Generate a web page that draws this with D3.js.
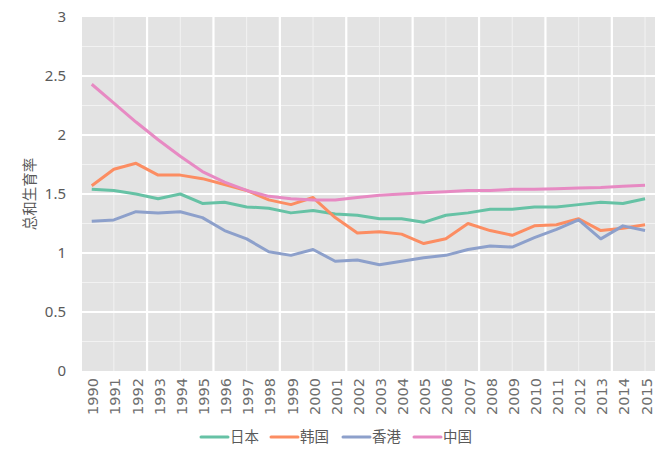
<!DOCTYPE html>
<html>
<head>
<meta charset="utf-8">
<script src="https://cdn.jsdelivr.net/npm/d3@7"></script>
<style>
html, body { margin: 0; padding: 0; background: #fff; }
svg { display: block; }
text { font-family: "Noto Sans CJK SC", "Noto Sans", sans-serif; }
</style>
</head>
<body>
<svg id="chart" width="670" height="460"></svg>
<script>
const years = [1990,1991,1992,1993,1994,1995,1996,1997,1998,1999,2000,2001,2002,2003,2004,2005,2006,2007,2008,2009,2010,2011,2012,2013,2014,2015];
const seriesNames = ["日本", "韩国", "香港", "中国"];
const japan =    [1.54,1.53,1.50,1.46,1.50,1.42,1.43,1.39,1.38,1.34,1.36,1.33,1.32,1.29,1.29,1.26,1.32,1.34,1.37,1.37,1.39,1.39,1.41,1.43,1.42,1.46];
const korea =    [1.57,1.71,1.76,1.66,1.66,1.63,1.58,1.53,1.45,1.41,1.47,1.30,1.17,1.18,1.16,1.08,1.12,1.25,1.19,1.15,1.23,1.24,1.29,1.19,1.21,1.24];
const hongkong = [1.27,1.28,1.35,1.34,1.35,1.30,1.19,1.12,1.01,0.98,1.03,0.93,0.94,0.90,0.93,0.96,0.98,1.03,1.06,1.05,1.13,1.20,1.28,1.12,1.23,1.19];
const china =    [2.43,2.27,2.11,1.96,1.82,1.69,1.60,1.53,1.48,1.46,1.45,1.45,1.47,1.49,1.50,1.51,1.52,1.53,1.53,1.54,1.54,1.545,1.55,1.555,1.565,1.575];
const yTicks = [0, 0.5, 1, 1.5, 2, 2.5, 3];
const yLabel = "总和生育率";
const colors = ["#66c2a5", "#fc8d62", "#8da0cb", "#e78ac3"];

const allSeries = [japan, korea, hongkong, china];

const svg = d3.select("#chart");
const pL = 82, pR = 655, pT = 17, pB = 371;

const x = d3.scaleLinear().domain([1989.56, 2015.45]).range([pL, pR]);
const y = d3.scaleLinear().domain([0, 3]).range([pB, pT]);

// panel
svg.append("rect").attr("x", pL).attr("y", pT)
  .attr("width", pR - pL).attr("height", pB - pT)
  .attr("fill", "#e3e3e3");

const grid = svg.append("g");
// horizontal minor
d3.range(0.25, 3, 0.5).forEach(v => {
  grid.append("line").attr("x1", pL).attr("x2", pR)
    .attr("y1", y(v)).attr("y2", y(v))
    .attr("stroke", "#f2f2f2").attr("stroke-width", 1);
});
// vertical minor
d3.range(1991, 2015.5, 3).forEach(v => {
  grid.append("line").attr("y1", pT).attr("y2", pB)
    .attr("x1", x(v)).attr("x2", x(v))
    .attr("stroke", "#f2f2f2").attr("stroke-width", 1);
});
// horizontal major
yTicks.filter(v => v > 0 && v < 3).forEach(v => {
  grid.append("line").attr("x1", pL).attr("x2", pR)
    .attr("y1", y(v)).attr("y2", y(v))
    .attr("stroke", "#ffffff").attr("stroke-width", 2.2);
});
// vertical major
d3.range(1992.5, 2015, 3).forEach(v => {
  grid.append("line").attr("y1", pT).attr("y2", pB)
    .attr("x1", x(v)).attr("x2", x(v))
    .attr("stroke", "#ffffff").attr("stroke-width", 2.2);
});

// y axis labels
const yAxis = d3.axisLeft(y).tickValues(yTicks).tickSize(0).tickPadding(16)
  .tickFormat(d => String(d));
const gy = svg.append("g").attr("transform", `translate(${pL},0)`).call(yAxis);
gy.select(".domain").remove();
gy.selectAll("text").attr("fill", "#5a5a5a").attr("font-size", 15)
  .style("font-family", "'Noto Sans', sans-serif");

// x axis labels
const xAxis = d3.axisBottom(x).tickValues(years).tickSize(0).tickPadding(0)
  .tickFormat(d => String(d));
const gx = svg.append("g").attr("transform", `translate(0,${pB})`).call(xAxis);
gx.select(".domain").remove();
gx.selectAll("text")
  .attr("fill", "#6e6e6e")
  .attr("font-size", 14.5)
  .style("font-family", "'DejaVu Sans', sans-serif")
  .attr("text-anchor", "end")
  .attr("dy", "0.35em")
  .attr("transform", "translate(1,7) rotate(-90)")
  .attr("x", 0).attr("y", 0);

// y axis title
svg.append("text")
  .attr("transform", `translate(30,${(pT + pB) / 2}) rotate(-90)`)
  .attr("text-anchor", "middle").attr("dy", "0.35em")
  .attr("fill", "#595959").attr("font-size", 14.5)
  .text(yLabel);

// lines
const line = d3.line().x((d, i) => x(years[i])).y(d => y(d));
allSeries.forEach((s, k) => {
  svg.append("path").datum(s)
    .attr("d", line)
    .attr("fill", "none")
    .attr("stroke", colors[k])
    .attr("stroke-width", 3)
    .attr("stroke-linejoin", "round");
});

// legend
const legendX = [201, 271, 343, 414];
const lg = svg.append("g");
seriesNames.forEach((name, k) => {
  const g = lg.append("g").attr("transform", `translate(${legendX[k]},437)`);
  g.append("line").attr("x1", 0).attr("x2", 27).attr("y1", 0).attr("y2", 0)
    .attr("stroke", colors[k]).attr("stroke-width", 3).attr("stroke-linecap", "round");
  g.append("text").attr("x", 29).attr("y", 0).attr("dy", "0.35em")
    .attr("fill", "#595959").attr("font-size", 14.5).text(name);
});
</script>
</body>
</html>
